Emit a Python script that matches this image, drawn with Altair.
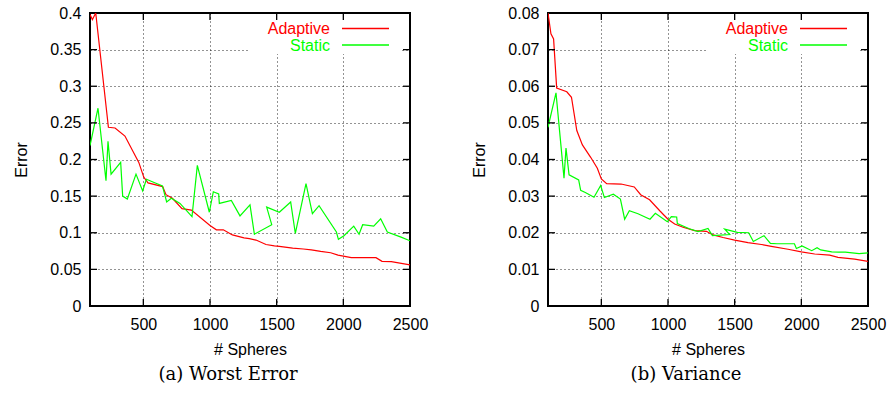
import altair as alt
import pandas as pd

# ---- data -------------------------------------------------------------
# Worst error, adaptive refinement
worst_adaptive_n = [100, 118, 143, 238, 288, 362, 466, 503, 535, 645,
                    670, 718, 790, 860, 1000, 1048, 1100, 1168, 1255, 1295,
                    1345, 1420, 1483, 1520, 1620, 1700, 1760, 1830, 1905, 1960,
                    2060, 2245, 2290, 2360, 2500]
worst_adaptive_err = [0.398, 0.391, 0.400, 0.244, 0.243, 0.232, 0.196, 0.176, 0.168, 0.163,
                      0.152, 0.147, 0.133, 0.131, 0.110, 0.104, 0.104, 0.097, 0.093, 0.092,
                      0.090, 0.084, 0.082, 0.0815, 0.079, 0.0778, 0.0765, 0.0745, 0.0727, 0.0695,
                      0.066, 0.066, 0.061, 0.0605, 0.056]

# Static runs (same sphere counts in both panels, in run order)
static_n = [100, 160, 220, 235, 258, 330, 345, 380, 445, 495,
            523, 590, 643, 675, 710, 775, 865, 905, 995, 1025,
            1065, 1070, 1160, 1225, 1300, 1333, 1463, 1425, 1520, 1605,
            1640, 1720, 1768, 1818, 1948, 1963, 2005, 2078, 2118, 2145,
            2228, 2280, 2330, 2433, 2500]
worst_static_err = [0.219, 0.270, 0.171, 0.225, 0.180, 0.196, 0.150, 0.146, 0.180, 0.157,
                    0.173, 0.168, 0.164, 0.142, 0.147, 0.140, 0.122, 0.192, 0.128, 0.156,
                    0.153, 0.140, 0.144, 0.123, 0.138, 0.098, 0.111, 0.135, 0.128, 0.142,
                    0.099, 0.167, 0.126, 0.137, 0.101, 0.091, 0.096, 0.109, 0.098, 0.111,
                    0.109, 0.119, 0.101, 0.094, 0.089]

# Variance, adaptive refinement
var_adaptive_n = [100, 122, 142, 165, 241, 276, 316, 358, 420, 470,
                  500, 540, 648, 747, 795, 862, 938, 1000, 1050, 1113,
                  1200, 1288, 1338, 1413, 1500, 1600, 1700, 1775, 1900, 2000,
                  2100, 2213, 2275, 2400, 2500]
var_adaptive_err = [0.0800, 0.0743, 0.0729, 0.0595, 0.0585, 0.0570, 0.0479, 0.0440, 0.0406, 0.0376,
                    0.0347, 0.0334, 0.0333, 0.0325, 0.0304, 0.0290, 0.0260, 0.0237, 0.0224, 0.0215,
                    0.0206, 0.0204, 0.0194, 0.0187, 0.0180, 0.0173, 0.0168, 0.0163, 0.0155, 0.0148,
                    0.0142, 0.0139, 0.0133, 0.0128, 0.0122]
var_static_err = [0.0488, 0.0582, 0.0349, 0.0431, 0.0358, 0.0344, 0.0316, 0.0310, 0.0297, 0.0329,
                  0.0296, 0.0305, 0.0292, 0.0237, 0.0260, 0.0252, 0.0237, 0.0253, 0.0230, 0.0244,
                  0.0243, 0.0225, 0.0211, 0.0203, 0.0212, 0.0192, 0.0195, 0.0210, 0.0201, 0.0200,
                  0.0176, 0.0192, 0.0171, 0.0170, 0.0170, 0.0157, 0.0164, 0.0151, 0.0159, 0.0153,
                  0.0148, 0.0147, 0.0147, 0.0143, 0.0145]

methods = ["Adaptive", "Static"]
x_ticks = [500, 1000, 1500, 2000, 2500]
worst_ticks = [0, 0.05, 0.1, 0.15, 0.2, 0.25, 0.3, 0.35, 0.4]
var_ticks = [0, 0.01, 0.02, 0.03, 0.04, 0.05, 0.06, 0.07, 0.08]

# ---- style ------------------------------------------------------------
SANS = "Liberation Sans"
SERIF = "DejaVu Serif"
W, H = 320, 293
RED, GREEN = "#ff0000", "#00ff00"
TICK = 7


def panel(adapt_n, adapt_err, static_err, y_ticks, caption):
    df = pd.DataFrame({
        "spheres": adapt_n + static_n,
        "error": adapt_err + static_err,
        "method": ["Adaptive"] * len(adapt_n) + ["Static"] * len(static_n),
        "step": list(range(len(adapt_n))) + list(range(len(static_n))),
    })
    xs = alt.Scale(domain=[100, 2500], nice=False, zero=False)
    ys = alt.Scale(domain=[y_ticks[0], y_ticks[-1]], nice=False)

    # every layer carries the same axis definitions so they merge cleanly
    x_axis = alt.Axis(values=x_ticks, format="d", title="# Spheres",
                      labelPadding=10, titlePadding=9, labelFlush=False)
    y_axis = alt.Axis(values=y_ticks, format="~g", title="Error",
                      labelPadding=9, titleX=-69, titleBaseline="middle",
                      labelFlush=False)

    # opaque key box hides the grid behind the legend
    key_box = alt.Chart(pd.DataFrame({"k": [0]})).mark_rect(
        fill="white"
    ).encode(x=alt.value(159), x2=alt.value(311), y=alt.value(1), y2=alt.value(41))

    lines = alt.Chart(df).mark_line(strokeWidth=1.2, clip=True).encode(
        x=alt.X("spheres:Q", scale=xs, axis=x_axis),
        y=alt.Y("error:Q", scale=ys, axis=y_axis),
        color=alt.Color("method:N", scale=alt.Scale(domain=methods, range=[RED, GREEN]),
                        legend=None),
        order=alt.Order("step:Q"),
    )

    # inward tick marks on all four borders
    ytk = pd.DataFrame({"v": y_ticks[1:-1]})
    xtk = pd.DataFrame({"v": x_ticks[:-1]})
    rule = dict(color="black", strokeWidth=1.3)
    tick_layers = [
        alt.Chart(ytk).mark_rule(**rule).encode(
            y=alt.Y("v:Q", scale=ys, axis=y_axis), x=alt.value(0), x2=alt.value(TICK)),
        alt.Chart(ytk).mark_rule(**rule).encode(
            y=alt.Y("v:Q", scale=ys, axis=y_axis), x=alt.value(W - TICK), x2=alt.value(W)),
        alt.Chart(xtk).mark_rule(**rule).encode(
            x=alt.X("v:Q", scale=xs, axis=x_axis), y=alt.value(0), y2=alt.value(TICK)),
        alt.Chart(xtk).mark_rule(**rule).encode(
            x=alt.X("v:Q", scale=xs, axis=x_axis), y=alt.value(H - TICK), y2=alt.value(H)),
    ]

    # gnuplot-style key: label, then a short line sample
    key_layers = []
    for name, col, ky in [("Adaptive", RED, 16), ("Static", GREEN, 32.5)]:
        key_layers.append(
            alt.Chart(pd.DataFrame({"label": [name]})).mark_text(
                align="right", baseline="middle", font=SANS, fontSize=16, color=col
            ).encode(x=alt.value(240), y=alt.value(ky), text="label:N"))
        key_layers.append(
            alt.Chart(pd.DataFrame({"label": [name]})).mark_rule(
                color=col, strokeWidth=1.3
            ).encode(x=alt.value(252), x2=alt.value(299), y=alt.value(ky - 0.5)))

    return alt.layer(key_box, lines, *tick_layers, *key_layers).properties(
        width=W, height=H,
        title=alt.TitleParams(caption, orient="bottom", anchor="middle", font=SERIF,
                              fontSize=18, fontWeight="normal", color="black",
                              dx=-22, offset=9),
    )


left = panel(worst_adaptive_n, worst_adaptive_err, worst_static_err, worst_ticks,
             "(a) Worst Error")
right = panel(var_adaptive_n, var_adaptive_err, var_static_err, var_ticks,
              "(b) Variance")

chart = alt.hconcat(
    left, right, spacing=138, bounds="flush",
    padding={"left": 12, "top": 4, "right": 0, "bottom": 0},
).configure_view(
    stroke="black", strokeWidth=2
).configure_axis(
    labelFont=SANS, labelFontSize=16, labelColor="black",
    titleFont=SANS, titleFontSize=16, titleFontWeight="normal", titleColor="black",
    domain=False, ticks=False,
    grid=True, gridColor="#000000", gridDash=[1, 3], gridWidth=1, gridOpacity=0.85,
)

chart.save("out.html", embed_options={"renderer": "svg", "actions": False})
